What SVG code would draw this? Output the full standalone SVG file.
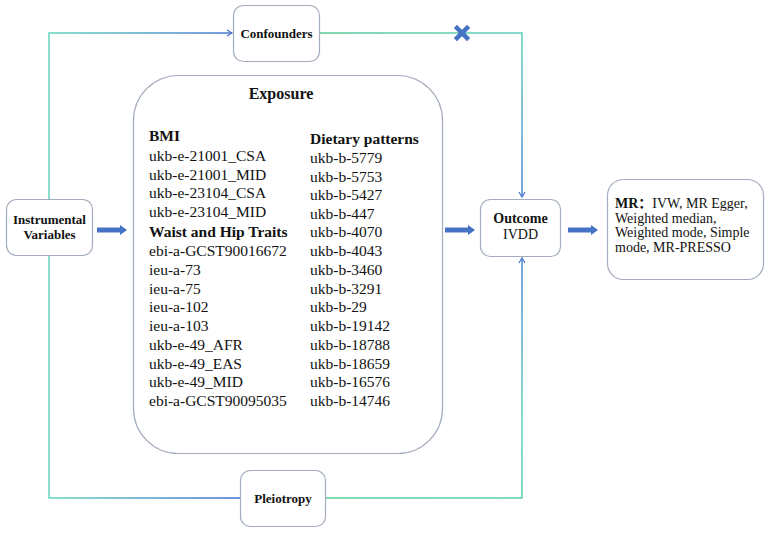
<svg xmlns="http://www.w3.org/2000/svg" width="767" height="533" viewBox="0 0 767 533">
<style>
.box{fill:#fff;stroke:#a3adbd;stroke-width:1.2}
.b{font-family:"Liberation Serif","Noto Sans CJK SC",serif;font-weight:bold;fill:#111}
.r{font-family:"Liberation Serif","Noto Sans CJK SC",serif;fill:#111}
.ln{fill:none;stroke-width:1.5}
.blk{fill:#4472c4}
</style>
<defs>
<linearGradient id="gTop" gradientUnits="userSpaceOnUse" x1="49" y1="0" x2="232" y2="0">
<stop offset="0" stop-color="#62d3bd"/><stop offset="1" stop-color="#4a78d0"/></linearGradient>
<linearGradient id="gTopR" gradientUnits="userSpaceOnUse" x1="320" y1="33" x2="522" y2="197">
<stop offset="0" stop-color="#55cf98"/><stop offset="0.6" stop-color="#5fd0bd"/><stop offset="1" stop-color="#4a86d4"/></linearGradient>
<linearGradient id="gBot" gradientUnits="userSpaceOnUse" x1="49" y1="0" x2="240" y2="0">
<stop offset="0" stop-color="#62d3bd"/><stop offset="1" stop-color="#3f6fd2"/></linearGradient>
<linearGradient id="gBotR" gradientUnits="userSpaceOnUse" x1="325" y1="498" x2="522" y2="258">
<stop offset="0" stop-color="#55cf98"/><stop offset="0.6" stop-color="#5fd0bd"/><stop offset="1" stop-color="#4a86d4"/></linearGradient>
<marker id="ah" markerWidth="8" markerHeight="8" refX="6" refY="4" orient="auto" markerUnits="userSpaceOnUse">
<path d="M1,1 L6,4 L1,7" fill="none" stroke="#4a72c8" stroke-width="1.2"/></marker>
</defs>
<g id="connectors">
<path class="ln" d="M49,199 V33 H232" stroke="url(#gTop)" marker-end="url(#ah)"/>
<path class="ln" d="M320,33 H522 V197" stroke="url(#gTopR)" marker-end="url(#ah)"/>
<path class="ln" d="M49,255 V498 H240" stroke="url(#gBot)"/>
<path class="ln" d="M325,498 H522 V258" stroke="url(#gBotR)" marker-end="url(#ah)"/>
<path class="blk" d="M97,227.5 H120 V225 L127,230 L120,235 V232.5 H97 Z"/>
<path class="blk" d="M445,227.5 H468 V225 L475,230 L468,235 V232.5 H445 Z"/>
<path class="blk" d="M568,227.5 H591 V225 L598,230 L591,235 V232.5 H568 Z"/>
<g id="cross" stroke="#4472c4" stroke-width="4.5" stroke-linecap="square">
<line x1="457" y1="28" x2="467" y2="38"/><line x1="467" y1="28" x2="457" y2="38"/></g>
</g>
<g id="confounders">
<rect class="box" x="233.5" y="5.5" width="86" height="56" rx="10"/>
<text class="b" x="276.5" y="38" font-size="13" text-anchor="middle">Confounders</text>
</g>
<g id="instrumental">
<rect class="box" x="6.5" y="199.5" width="86" height="56" rx="10"/>
<text class="b" x="49.5" y="224" font-size="13" text-anchor="middle">Instrumental</text>
<text class="b" x="49.5" y="239" font-size="13" text-anchor="middle">Variables</text>
</g>
<g id="exposure">
<rect class="box" x="133.5" y="75.5" width="309" height="378" rx="45"/>
<text class="b" x="281" y="99" font-size="16" text-anchor="middle">Exposure</text>
<g class="b" font-size="15.5">
<text x="149" y="141">BMI</text>
<text x="149" y="237">Waist and Hip Traits</text>
<text x="310" y="144">Dietary patterns</text>
</g>
<g class="r" font-size="15.5">
<text x="149" y="161">ukb-e-21001_CSA</text>
<text x="149" y="179.5">ukb-e-21001_MID</text>
<text x="149" y="198">ukb-e-23104_CSA</text>
<text x="149" y="216.5">ukb-e-23104_MID</text>
<text x="149" y="256">ebi-a-GCST90016672</text>
<text x="149" y="275">ieu-a-73</text>
<text x="149" y="293.5">ieu-a-75</text>
<text x="149" y="312">ieu-a-102</text>
<text x="149" y="331">ieu-a-103</text>
<text x="149" y="350">ukb-e-49_AFR</text>
<text x="149" y="368.5">ukb-e-49_EAS</text>
<text x="149" y="387">ukb-e-49_MID</text>
<text x="149" y="406">ebi-a-GCST90095035</text>
<text x="310" y="163">ukb-b-5779</text>
<text x="310" y="181.5">ukb-b-5753</text>
<text x="310" y="200">ukb-b-5427</text>
<text x="310" y="218.5">ukb-b-447</text>
<text x="310" y="237">ukb-b-4070</text>
<text x="310" y="256">ukb-b-4043</text>
<text x="310" y="275">ukb-b-3460</text>
<text x="310" y="293.5">ukb-b-3291</text>
<text x="310" y="312">ukb-b-29</text>
<text x="310" y="331">ukb-b-19142</text>
<text x="310" y="350">ukb-b-18788</text>
<text x="310" y="368.5">ukb-b-18659</text>
<text x="310" y="387">ukb-b-16576</text>
<text x="310" y="406">ukb-b-14746</text>
</g>
</g>
<g id="outcome">
<rect class="box" x="480.5" y="199.5" width="80" height="57" rx="10"/>
<text class="b" x="520.5" y="223" font-size="14" text-anchor="middle">Outcome</text>
<text class="r" x="520.5" y="239" font-size="14" text-anchor="middle">IVDD</text>
</g>
<g id="mr">
<rect class="box" x="607.5" y="179.5" width="156" height="100" rx="16"/>
<text class="r" x="615" y="208" font-size="14"><tspan class="b">MR：</tspan>IVW, MR Egger,</text>
<text class="r" x="615" y="222.5" font-size="14">Weighted median,</text>
<text class="r" x="615" y="237" font-size="14">Weighted mode, Simple</text>
<text class="r" x="615" y="251.5" font-size="14">mode, MR-PRESSO</text>
</g>
<g id="pleiotropy">
<rect class="box" x="240.5" y="470.5" width="85" height="56" rx="10"/>
<text class="b" x="283" y="503" font-size="13" text-anchor="middle">Pleiotropy</text>
</g>
</svg>
